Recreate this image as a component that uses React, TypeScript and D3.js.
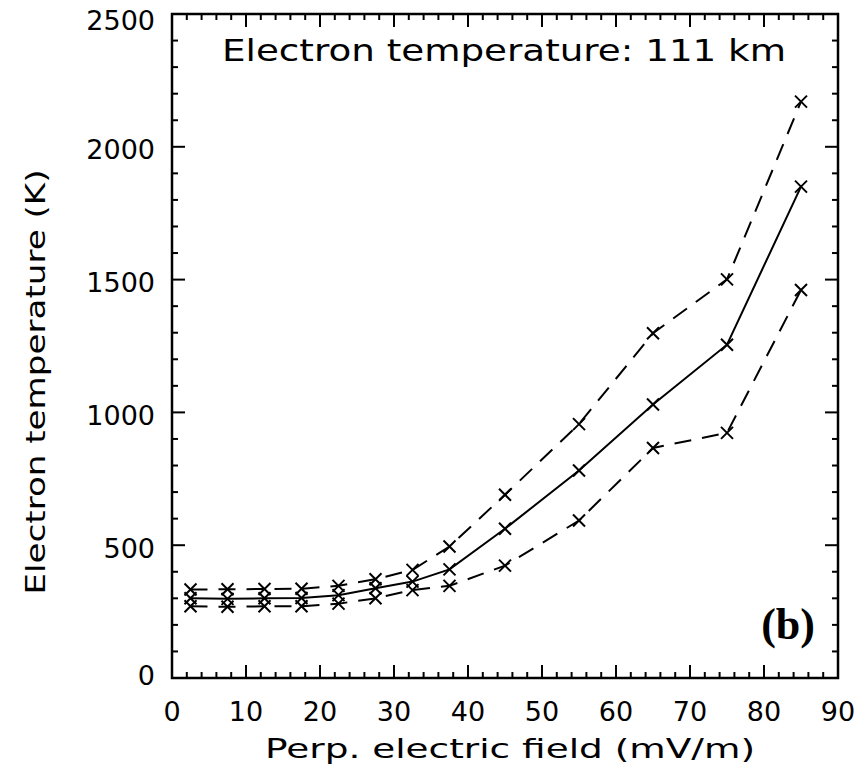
import React from "react";
import * as d3 from "d3";

const fieldValues = [2.5, 7.5, 12.5, 17.5, 22.5, 27.5, 32.5, 37.5, 45, 55, 65, 75, 85];
const meanTemp = [300, 298, 300, 301, 312, 338, 363, 409, 562, 781, 1030, 1255, 1850];
const upperTemp = [333, 334, 335, 336, 347, 372, 407, 495, 690, 956, 1298, 1501, 2170];
const lowerTemp = [270, 268, 270, 270, 280, 300, 331, 347, 423, 593, 866, 923, 1461];
const xTickValues = [0, 10, 20, 30, 40, 50, 60, 70, 80, 90];
const yTickValues = [0, 500, 1000, 1500, 2000, 2500];
const titleText = "Electron temperature: 111 km";
const xTitle = "Perp. electric field (mV/m)";
const yTitle = "Electron temperature (K)";
const panelLabel = "(b)";

const L = 172, R = 838, T = 14, B = 678;
const FONT = "'DejaVu Sans', sans-serif";

export default function App() {
  const x = d3.scaleLinear().domain([0, 90]).range([L, R]);
  const y = d3.scaleLinear().domain([0, 2500]).range([B, T]);
  const xMinor = d3.range(0, 90.001, 2).filter((v) => v % 10 !== 0);
  const yMinor = d3.range(0, 2500.001, 100).filter((v) => v % 500 !== 0);
  const line = d3
    .line<number>()
    .x((_, i) => x(fieldValues[i]))
    .y((d) => y(d));
  const MAJ = 13, MIN = 6;
  const series = [
    { data: meanTemp, dash: undefined as string | undefined },
    { data: upperTemp, dash: "17,11" },
    { data: lowerTemp, dash: "17,11" },
  ];
  const ms = 6;
  return (
    <svg
      width={862}
      height={765}
      style={{ position: "absolute", left: 0, top: 0, background: "#fff" }}
    >
      <rect x={0} y={0} width={862} height={765} fill="#fff" />
      <g stroke="#000" strokeWidth={2}>
        {xTickValues.map((v) => (
          <g key={"xt" + v}>
            <line x1={x(v)} x2={x(v)} y1={B} y2={B - MAJ} />
            <line x1={x(v)} x2={x(v)} y1={T} y2={T + MAJ} />
          </g>
        ))}
        {xMinor.map((v) => (
          <g key={"xm" + v}>
            <line x1={x(v)} x2={x(v)} y1={B} y2={B - MIN} />
            <line x1={x(v)} x2={x(v)} y1={T} y2={T + MIN} />
          </g>
        ))}
        {yTickValues.map((v) => (
          <g key={"yt" + v}>
            <line x1={L} x2={L + MAJ} y1={y(v)} y2={y(v)} />
            <line x1={R} x2={R - MAJ} y1={y(v)} y2={y(v)} />
          </g>
        ))}
        {yMinor.map((v) => (
          <g key={"ym" + v}>
            <line x1={L} x2={L + MIN} y1={y(v)} y2={y(v)} />
            <line x1={R} x2={R - MIN} y1={y(v)} y2={y(v)} />
          </g>
        ))}
      </g>
      <rect x={L} y={T} width={R - L} height={B - T} fill="none" stroke="#000" strokeWidth={2.5} />
      <g fontFamily={FONT} fontSize={27} fill="#000">
        {xTickValues.map((v) => (
          <text key={"xl" + v} x={x(v)} y={721} textAnchor="middle">
            {v}
          </text>
        ))}
        {yTickValues.map((v) => {
          const off = v === 0 ? -3 : v === 2500 ? 6 : 3;
          return (
            <text key={"yl" + v} x={155} y={y(v) + off} textAnchor="end" dominantBaseline="central">
              {v}
            </text>
          );
        })}
      </g>
      <text x={222} y={61} fontFamily={FONT} fontSize={31} textLength={564} lengthAdjust="spacingAndGlyphs">
        {titleText}
      </text>
      <text
        x={510}
        y={758}
        fontFamily={FONT}
        fontSize={27}
        textAnchor="middle"
        textLength={490}
        lengthAdjust="spacingAndGlyphs"
      >
        {xTitle}
      </text>
      <text
        transform="translate(45,382) rotate(-90)"
        fontFamily={FONT}
        fontSize={27}
        textAnchor="middle"
        textLength={425}
        lengthAdjust="spacingAndGlyphs"
      >
        {yTitle}
      </text>
      <text
        x={815}
        y={639}
        fontFamily="'Liberation Serif', 'Times New Roman', serif"
        fontWeight="bold"
        fontSize={44}
        textAnchor="end"
      >
        {panelLabel}
      </text>
      {series.map((s, si) => (
        <g key={"s" + si}>
          <path d={line(s.data) || ""} fill="none" stroke="#000" strokeWidth={2} strokeDasharray={s.dash} />
          {s.data.map((d, i) => {
            const cx = x(fieldValues[i]);
            const cy = y(d);
            return (
              <path
                key={i}
                d={`M${cx - ms},${cy - ms}L${cx + ms},${cy + ms}M${cx - ms},${cy + ms}L${cx + ms},${cy - ms}`}
                stroke="#000"
                strokeWidth={2}
                fill="none"
              />
            );
          })}
        </g>
      ))}
    </svg>
  );
}
